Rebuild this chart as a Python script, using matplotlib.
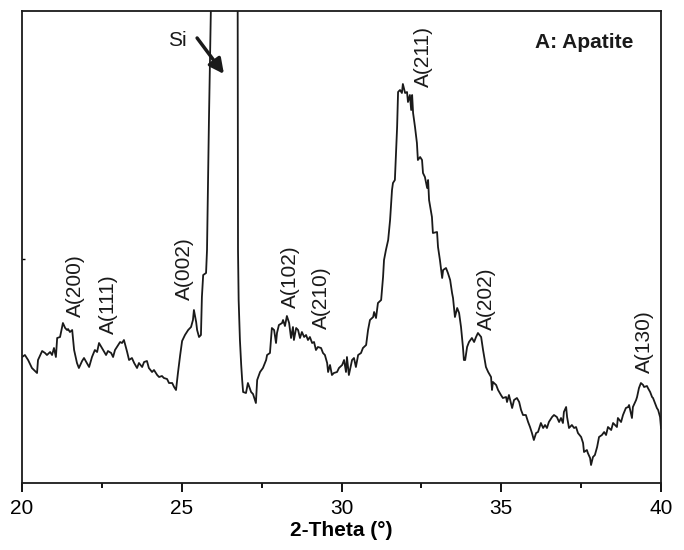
import matplotlib
matplotlib.use('Agg')
import matplotlib.pyplot as plt
import matplotlib as mpl

# XRD pattern, intensity in arbitrary units
two_theta = [20.00, 20.09, 20.19, 20.31, 20.47, 20.50, 20.63, 20.72, 20.78, 20.88,
             20.94, 21.00, 21.06, 21.10, 21.19, 21.28, 21.35, 21.41, 21.44, 21.50,
             21.57, 21.63, 21.72, 21.78, 21.88, 21.94, 22.03, 22.10, 22.19, 22.28,
             22.35, 22.41, 22.50, 22.57, 22.63, 22.69, 22.79, 22.85, 22.91, 22.97,
             23.07, 23.13, 23.19, 23.29, 23.35, 23.44, 23.51, 23.60, 23.66, 23.76,
             23.82, 23.91, 23.97, 24.07, 24.13, 24.23, 24.29, 24.38, 24.44, 24.54,
             24.60, 24.70, 24.76, 24.82, 24.88, 24.95, 25.01, 25.10, 25.20, 25.29,
             25.35, 25.38, 25.45, 25.48, 25.54, 25.60, 25.63, 25.67, 25.76, 25.79,
             25.85, 25.91, 25.96, 26.70, 26.75, 26.76, 26.78, 26.82, 26.86, 26.89,
             26.92, 27.01, 27.07, 27.17, 27.23, 27.32, 27.36, 27.45, 27.54, 27.64,
             27.67, 27.76, 27.82, 27.89, 27.95, 27.98, 28.04, 28.14, 28.17, 28.23,
             28.29, 28.36, 28.42, 28.48, 28.51, 28.58, 28.64, 28.70, 28.76, 28.83,
             28.89, 28.95, 29.01, 29.08, 29.14, 29.20, 29.26, 29.36, 29.42, 29.48,
             29.55, 29.58, 29.64, 29.70, 29.76, 29.86, 29.92, 30.02, 30.08, 30.14,
             30.17, 30.23, 30.33, 30.39, 30.45, 30.52, 30.61, 30.67, 30.77, 30.83,
             30.89, 30.99, 31.02, 31.08, 31.14, 31.24, 31.30, 31.33, 31.39, 31.46,
             31.52, 31.58, 31.61, 31.67, 31.74, 31.77, 31.83, 31.89, 31.92, 31.99,
             32.05, 32.08, 32.14, 32.18, 32.21, 32.24, 32.30, 32.36, 32.39, 32.46,
             32.52, 32.55, 32.61, 32.68, 32.71, 32.74, 32.83, 32.86, 32.99, 33.02,
             33.08, 33.15, 33.18, 33.27, 33.33, 33.40, 33.46, 33.49, 33.55, 33.62,
             33.68, 33.74, 33.80, 33.83, 33.87, 33.93, 33.99, 34.08, 34.15, 34.21,
             34.27, 34.37, 34.43, 34.52, 34.59, 34.68, 34.71, 34.74, 34.84, 34.90,
             34.99, 35.05, 35.15, 35.18, 35.24, 35.34, 35.40, 35.49, 35.56, 35.62,
             35.68, 35.77, 35.84, 35.90, 35.96, 36.02, 36.09, 36.15, 36.24, 36.31,
             36.37, 36.43, 36.49, 36.59, 36.65, 36.74, 36.81, 36.87, 36.93, 36.96,
             37.03, 37.06, 37.12, 37.21, 37.28, 37.34, 37.40, 37.50, 37.56, 37.59,
             37.68, 37.71, 37.78, 37.81, 37.87, 37.93, 38.00, 38.06, 38.15, 38.22,
             38.28, 38.34, 38.44, 38.50, 38.56, 38.62, 38.65, 38.75, 38.81, 38.90,
             38.97, 39.00, 39.09, 39.12, 39.22, 39.25, 39.31, 39.37, 39.44, 39.47,
             39.56, 39.59, 39.66, 39.72, 39.75, 39.81, 39.87, 39.91, 39.97, 40.00]
intensity = [126, 128, 123, 115, 110, 123, 132, 130, 128, 131,
             128, 135, 126, 145, 146, 160, 155, 153, 154, 151,
             153, 133, 120, 115, 122, 125, 120, 116, 126, 133,
             131, 140, 135, 131, 128, 132, 130, 126, 133, 136,
             141, 140, 143, 131, 123, 125, 120, 115, 120, 116,
             121, 122, 115, 111, 113, 108, 106, 107, 105, 104,
             100, 100, 96, 93, 110, 128, 142, 148, 153, 156,
             163, 173, 161, 153, 146, 148, 186, 208, 210, 233,
             362, 472, 1400, 1400, 472, 233, 183, 143, 118, 103,
             91, 90, 100, 91, 89, 80, 103, 111, 115, 123,
             128, 130, 155, 153, 140, 150, 158, 160, 163, 157,
             167, 160, 145, 156, 143, 155, 153, 145, 151, 146,
             148, 143, 146, 140, 141, 133, 136, 135, 130, 128,
             120, 111, 118, 108, 110, 111, 115, 118, 123, 111,
             126, 108, 123, 125, 116, 128, 130, 135, 138, 153,
             163, 166, 171, 165, 180, 183, 206, 223, 233, 243,
             263, 293, 300, 303, 356, 391, 393, 390, 399, 390,
             391, 381, 388, 373, 388, 370, 356, 340, 323, 326,
             323, 310, 306, 295, 303, 283, 266, 250, 251, 236,
             223, 205, 213, 215, 210, 203, 190, 185, 166, 175,
             170, 156, 136, 123, 123, 136, 141, 145, 141, 146,
             150, 146, 133, 116, 111, 106, 93, 101, 98, 93,
             88, 85, 86, 81, 88, 75, 83, 85, 81, 73,
             68, 68, 61, 56, 50, 43, 50, 51, 60, 55,
             58, 55, 61, 66, 68, 66, 61, 65, 60, 71,
             76, 66, 55, 58, 55, 56, 50, 46, 40, 31,
             33, 30, 25, 18, 26, 28, 36, 46, 48, 51,
             48, 56, 53, 60, 58, 56, 65, 61, 68, 75,
             76, 78, 65, 76, 83, 86, 95, 100, 98, 96,
             97, 95, 91, 86, 85, 80, 75, 73, 66, 55]

peak_labels = ['A(200)', 'A(111)', 'A(002)', 'A(102)', 'A(210)', 'A(211)', 'A(202)', 'A(130)']
peak_x = [21.66, 22.69, 25.07, 28.39, 29.36, 32.55, 34.55, 39.47]
peak_y = [166, 149, 183, 175, 154, 396, 153, 110]

mpl.rcParams['font.family'] = ['Liberation Sans', 'DejaVu Sans']
mpl.rcParams['font.size'] = 15

fig = plt.figure(figsize=(6.84, 5.5), dpi=100)
ax = fig.add_axes([0.0322, 0.1218, 0.9342, 0.8582])

ax.plot(two_theta, intensity, color='#1a1a1a', lw=1.3)

for lab, x, y in zip(peak_labels, peak_x, peak_y):
    ax.text(x, y, lab, rotation=90, ha='center', va='bottom', fontsize=15, color='#1a1a1a')

# Si substrate peak
ax.text(24.85, 443, 'Si', ha='center', va='center', fontsize=15, color='#1a1a1a')
ax.annotate('', xy=(26.32, 409), xytext=(25.48, 445),
            arrowprops=dict(arrowstyle='-|>', lw=2.5, mutation_scale=22, color='#1a1a1a',
                            shrinkA=0, shrinkB=0))

ax.text(0.956, 0.934, 'A: Apatite', transform=ax.transAxes, ha='right', va='center',
        fontsize=15, fontweight='bold', color='#1a1a1a')

ax.set_xlim(20, 40)
ax.set_ylim(0, 472)
ax.set_xticks([20, 25, 30, 35, 40])
ax.set_xticks([22.5, 27.5, 32.5, 37.5], minor=True)
ax.set_yticks([224])
ax.set_yticklabels([])
ax.tick_params(axis='x', which='major', direction='out', length=6.5, width=1.3, pad=5, labelsize=15)
ax.tick_params(axis='x', which='minor', direction='out', length=3.5, width=1.3)
ax.tick_params(axis='y', direction='in', length=2, width=1.0)
for axis in ['top', 'bottom', 'left', 'right']:
    ax.spines[axis].set_linewidth(1.3)
    ax.spines[axis].set_color('#1a1a1a')

ax.set_xlabel('2-Theta (°)', fontsize=15, fontweight='bold', labelpad=2)

fig.savefig('out.png', dpi=100)
